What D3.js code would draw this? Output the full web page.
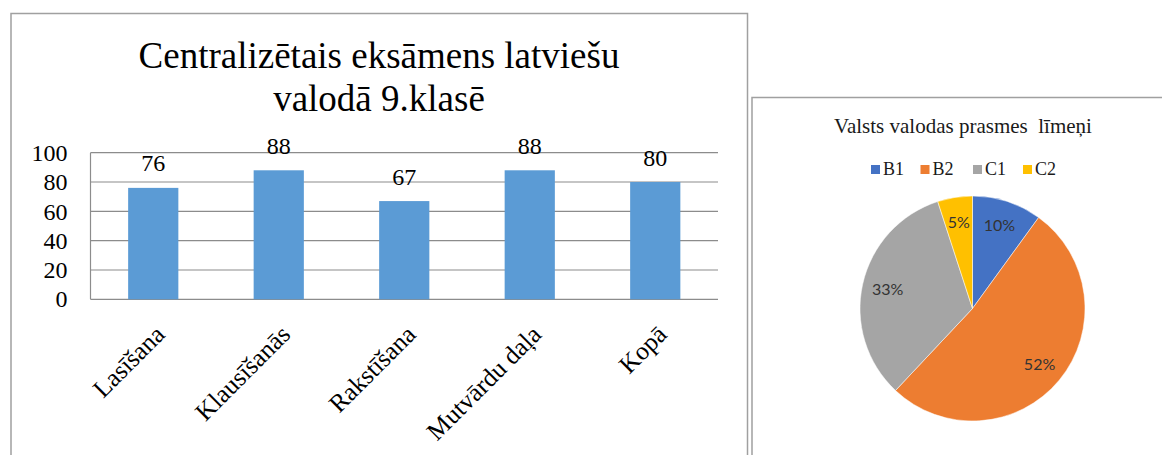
<!DOCTYPE html>
<html>
<head>
<meta charset="utf-8">
<script src="https://cdn.jsdelivr.net/npm/d3@7"></script>
<style>
  html, body { margin: 0; padding: 0; background: #fff; }
  svg { display: block; }
</style>
</head>
<body>
<svg id="chart" width="1162" height="455"></svg>
<script>
// ---- Data ----
const barTitleLines = ["Centralizētais eksāmens latviešu", "valodā 9.klasē"];
const categories = ["Lasīšana", "Klausīšanās", "Rakstīšana", "Mutvārdu daļa", "Kopā"];
const scores = [76, 88, 67, 88, 80];
const yTicks = [0, 20, 40, 60, 80, 100];

const pieTitle = "Valsts valodas prasmes  līmeņi";
const levels = ["B1", "B2", "C1", "C2"];
const shares = [10, 52, 33, 5];
const levelColors = ["#4472C4", "#ED7D31", "#A5A5A5", "#FFC000"];

const svg = d3.select("#chart");
const serif = "'Liberation Serif', 'Times New Roman', serif";

// ---- Left chart frame ----
svg.append("rect")
  .attr("x", 11).attr("y", 13.5).attr("width", 736.5).attr("height", 460)
  .attr("fill", "#fff").attr("stroke", "#a0a0a0").attr("stroke-width", 1.5);

// Title
const title = svg.append("text")
  .attr("x", 379).attr("y", 68)
  .attr("text-anchor", "middle")
  .style("font-family", serif).style("font-size", "37px").attr("fill", "#000");
barTitleLines.forEach((l, i) => {
  title.append("tspan").attr("x", 379).attr("dy", i === 0 ? 0 : 42.7).text(l);
});

// Scales
const x = d3.scaleBand().domain(categories).range([90.5, 718]).paddingInner(0.6).paddingOuter(0.3);
const y = d3.scaleLinear().domain([0, 100]).range([299.3, 152.7]);

// Gridlines
svg.append("g").selectAll("line").data(yTicks).join("line")
  .attr("x1", 90.5).attr("x2", 718)
  .attr("y1", d => y(d)).attr("y2", d => y(d))
  .attr("stroke", "#8c8c8c").attr("stroke-width", 1.2);

// Left axis line
svg.append("line")
  .attr("x1", 90.5).attr("x2", 90.5).attr("y1", y(100)).attr("y2", y(0))
  .attr("stroke", "#8c8c8c").attr("stroke-width", 1.2);

// Y axis labels
const yAxis = d3.axisLeft(y).tickValues(yTicks).tickSize(0).tickPadding(23);
const gy = svg.append("g").attr("transform", "translate(90.5,0)").call(yAxis);
gy.select(".domain").remove();
gy.selectAll("text")
  .style("font-family", serif).style("font-size", "24px").attr("fill", "#000");

// Bars
svg.append("g").selectAll("rect").data(scores).join("rect")
  .attr("x", (d, i) => x(categories[i]))
  .attr("width", x.bandwidth())
  .attr("y", d => y(d))
  .attr("height", d => y(0) - y(d))
  .attr("fill", "#5B9BD5");

// Data labels
svg.append("g").selectAll("text").data(scores).join("text")
  .attr("x", (d, i) => x(categories[i]) + x.bandwidth() / 2)
  .attr("y", d => y(d) - 16.5)
  .attr("text-anchor", "middle")
  .style("font-family", serif).style("font-size", "24px").attr("fill", "#000")
  .text(d => d);

// Category labels (rotated)
svg.append("g").selectAll("text").data(categories).join("text")
  .attr("transform", d => `translate(${x(d) + x.bandwidth() / 2 + 13},336) rotate(-45)`)
  .attr("text-anchor", "end")
  .style("font-family", serif).style("font-size", "25.5px").attr("fill", "#000")
  .text(d => d);

// ---- Pie chart frame ----
svg.append("rect")
  .attr("x", 752).attr("y", 97.5).attr("width", 420).attr("height", 380)
  .attr("fill", "#fff").attr("stroke", "#a0a0a0").attr("stroke-width", 1.5);

svg.append("text")
  .attr("x", 963).attr("y", 132.5)
  .attr("text-anchor", "middle")
  .style("font-family", serif).style("font-size", "21px").style("white-space", "pre")
  .attr("fill", "#1a1a1a")
  .text(pieTitle);

// Legend
const legendX = [871, 920.5, 973, 1023];
const lg = svg.append("g").selectAll("g").data(levels).join("g")
  .attr("transform", (d, i) => `translate(${legendX[i]},165)`);
lg.append("rect").attr("width", 9).attr("height", 9).attr("fill", (d, i) => levelColors[i]);
lg.append("text").attr("x", 12).attr("y", 10)
  .style("font-family", serif).style("font-size", "18px").attr("fill", "#1a1a1a")
  .text(d => d);

// Pie
const cx = 972.5, cy = 308.5, R = 112.5;
const pie = d3.pie().sort(null).value(d => d)(shares);
const arc = d3.arc().innerRadius(0).outerRadius(R);
const labelArc = d3.arc().innerRadius(87).outerRadius(87);
const pg = svg.append("g").attr("transform", `translate(${cx},${cy})`);
pg.selectAll("path").data(pie).join("path")
  .attr("d", arc)
  .attr("fill", (d, i) => levelColors[i])
  .attr("stroke", "#fff").attr("stroke-width", 0.5);
pg.selectAll("text").data(pie).join("text")
  .attr("transform", d => `translate(${labelArc.centroid(d)})`)
  .attr("text-anchor", "middle").attr("dy", "0.35em")
  .style("font-family", "Lato, 'Open Sans', sans-serif").style("font-size", "16px")
  .attr("fill", "#333")
  .text(d => d.data + "%");
</script>
</body>
</html>
